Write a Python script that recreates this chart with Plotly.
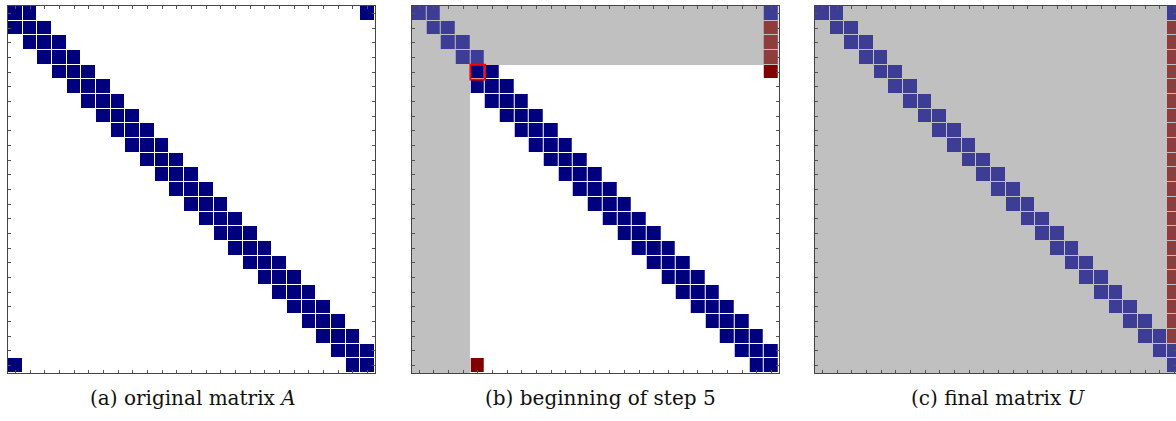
import numpy as np
import plotly.graph_objects as go

N = 25
# nonzero columns of each row of the original matrix A (periodic tridiagonal)
A_pattern = [
    [1, 2, 25], [1, 2, 3], [2, 3, 4], [3, 4, 5], [4, 5, 6], [5, 6, 7], [6, 7, 8],
    [7, 8, 9], [8, 9, 10], [9, 10, 11], [10, 11, 12], [11, 12, 13], [12, 13, 14],
    [13, 14, 15], [14, 15, 16], [15, 16, 17], [16, 17, 18], [17, 18, 19],
    [18, 19, 20], [19, 20, 21], [20, 21, 22], [21, 22, 23], [22, 23, 24],
    [23, 24, 25], [1, 24, 25],
]
# step 5: finished rows (U part), fill-in entries, active submatrix start
done_rows = [1, 2, 3, 4]
done_cols = [1, 2, 3, 4]
fill_b = [(2, 25), (3, 25), (4, 25), (5, 25), (25, 5)]
pivot_b = (5, 5)
# final U: fill-ins in last column
fill_c_rows = [2, 3, 4, 5, 6, 7, 8, 9, 10, 11, 12, 13, 14, 15, 16, 17, 18, 19, 20, 21, 22, 23]
captions = ["(a) original matrix <i>A</i>", "(b) beginning of step 5", "(c) final matrix <i>U</i>"]

C_DARKBLUE, C_FADEBLUE, C_DARKRED, C_FADERED = 1, 2, 3, 4
GRAY = "#c0c0c0"
cscale = [[0.0, "#00007f"], [0.25, "#00007f"], [0.25, "#3d3d96"], [0.5, "#3d3d96"],
          [0.5, "#800000"], [0.75, "#800000"], [0.75, "#8e3c3c"], [1.0, "#8e3c3c"]]

def nan_grid():
    return np.full((N, N), np.nan)

# panel a
za = nan_grid()
for r, cols in enumerate(A_pattern, start=1):
    for c in cols:
        za[r - 1, c - 1] = C_DARKBLUE
bga = np.zeros((N, N))

# panel b
zb = nan_grid()
bgb = np.zeros((N, N))
for r in done_rows:
    bgb[r - 1, :] = 1
for c in done_cols:
    bgb[:, c - 1] = 1
for r, cols in enumerate(A_pattern, start=1):
    for c in cols:
        if r in done_rows:
            if c >= r:
                zb[r - 1, c - 1] = C_FADEBLUE
        elif c in done_cols:
            pass
        else:
            zb[r - 1, c - 1] = C_DARKBLUE
for (r, c) in fill_b:
    if r in done_rows:
        zb[r - 1, c - 1] = C_FADERED
    else:
        zb[r - 1, c - 1] = C_DARKRED

# panel c
zc = nan_grid()
bgc = np.ones((N, N))
for r, cols in enumerate(A_pattern, start=1):
    for c in cols:
        if c >= r:
            zc[r - 1, c - 1] = C_FADEBLUE
for r in fill_c_rows:
    zc[r - 1, N - 1] = C_FADERED

idx = list(range(1, N + 1))
fig = go.Figure()

W, H = 1176, 421
cell = 14.68
top, bottom = 6, 373
ydom = [1 - bottom / H, 1 - top / H]
lefts = [8, 411.7, 815]
cap_x = [193, 600, 998]

panels = [(za, bga), (zb, bgb), (zc, bgc)]
for i, (z, bg) in enumerate(panels):
    xa = "x" if i == 0 else f"x{i+1}"
    ya = "y" if i == 0 else f"y{i+1}"
    fig.add_trace(go.Heatmap(z=bg, x=idx, y=idx, colorscale=[[0, "white"], [1, GRAY]],
                             zmin=0, zmax=1, showscale=False, hoverinfo="skip",
                             xaxis=xa, yaxis=ya))
    fig.add_trace(go.Heatmap(z=z, x=idx, y=idx, colorscale=cscale, zmin=0.5, zmax=4.5,
                             showscale=False, xgap=1, ygap=1, hoverinfo="skip",
                             xaxis=xa, yaxis=ya))
    x0 = lefts[i] / W
    x1 = min((lefts[i] + N * cell) / W, 1.0)
    xmax = 0.5 + (x1 * W - lefts[i]) / cell
    axcommon = dict(showticklabels=False, ticks="inside", ticklen=3, tickcolor="#555",
                    tickvals=idx, showgrid=False, zeroline=False, showline=True,
                    linecolor="#444", linewidth=1, mirror="ticks")
    key = "" if i == 0 else str(i + 1)
    fig.update_layout(**{
        f"xaxis{key}": dict(domain=[x0, x1], range=[0.5, xmax], anchor=ya, **axcommon),
        f"yaxis{key}": dict(domain=ydom, range=[N + 0.5, 0.5], anchor=xa, **axcommon),
    })
    fig.add_annotation(text=captions[i], xref="paper", yref="paper",
                       x=cap_x[i] / W, y=1 - 398 / H, showarrow=False,
                       xanchor="center", yanchor="middle",
                       font=dict(family="DejaVu Serif", size=20, color="#111"))

# pivot highlight in panel b
pr, pc = pivot_b
fig.add_shape(type="rect", xref="x2", yref="y2", x0=pc - 0.5, x1=pc + 0.5,
              y0=pr - 0.5, y1=pr + 0.5, line=dict(color="#ff0000", width=2))

fig.update_layout(width=W, height=H, margin=dict(l=0, r=0, t=0, b=0),
                  paper_bgcolor="white", plot_bgcolor="white")
fig.write_html("out.html")
